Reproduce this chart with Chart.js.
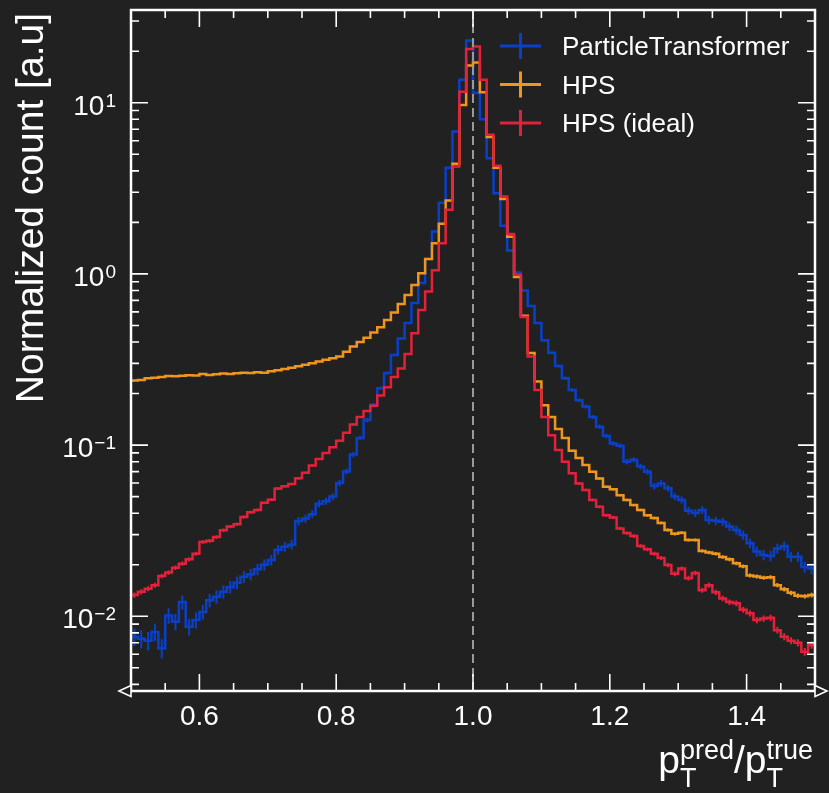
<!DOCTYPE html>
<html>
<head>
<meta charset="utf-8">
<script src="https://cdn.jsdelivr.net/npm/chart.js@4.4.0/dist/chart.umd.min.js"></script>
<style>
  html, body { margin: 0; padding: 0; background: #212121; }
  canvas { display: block; }
</style>
</head>
<body>
<canvas id="chart" width="829" height="793"></canvas>
<script>
// ---- data -----------------------------------------------------------------
const binLow = 0.5, binWidth = 0.01, nBins = 100;
const binEdges = Array.from({ length: nBins + 1 }, (_, i) => +(binLow + i * binWidth).toFixed(2));

const particleTransformer = [
  0.0076, 0.0074, 0.0072, 0.0081, 0.0065, 0.0101, 0.0093, 0.0121, 0.0087, 0.0095,
  0.0106, 0.0124, 0.0130, 0.0139, 0.0148, 0.0157, 0.0170, 0.0176, 0.0188, 0.0200,
  0.0213, 0.0245, 0.0255, 0.0262, 0.0360, 0.0372, 0.0395, 0.0455, 0.0470, 0.0500,
  0.0600, 0.0700, 0.0880, 0.110, 0.140, 0.172, 0.215, 0.264, 0.336, 0.420,
  0.517, 0.677, 0.885, 1.22, 1.77, 2.60, 4.17, 6.80, 13.6, 23.1,
  11.4, 8.0, 4.74, 2.96, 1.91, 1.37, 1.02, 0.80, 0.65, 0.517,
  0.41, 0.346, 0.29, 0.246, 0.21, 0.183, 0.168, 0.146, 0.128, 0.113,
  0.102, 0.099, 0.080, 0.082, 0.0749, 0.0699, 0.0576, 0.0597, 0.0560, 0.0500,
  0.0478, 0.0414, 0.0401, 0.0418, 0.0365, 0.0362, 0.0357, 0.0334, 0.0319, 0.0298,
  0.0267, 0.0239, 0.0228, 0.0225, 0.0249, 0.0257, 0.0223, 0.0223, 0.0194, 0.0190
];
const hps = [
  0.238, 0.240, 0.246, 0.247, 0.250, 0.253, 0.252, 0.254, 0.256, 0.255,
  0.260, 0.257, 0.259, 0.262, 0.260, 0.263, 0.265, 0.264, 0.266, 0.265,
  0.270, 0.274, 0.278, 0.283, 0.289, 0.295, 0.301, 0.308, 0.315, 0.322,
  0.329, 0.351, 0.376, 0.400, 0.424, 0.454, 0.488, 0.538, 0.594, 0.668,
  0.754, 0.862, 1.01, 1.22, 1.51, 1.96, 2.68, 4.40, 9.70, 16.5,
  17.2, 11.5, 6.30, 4.17, 2.74, 1.65, 0.96, 0.57, 0.345, 0.235,
  0.171, 0.146, 0.124, 0.110, 0.0928, 0.0840, 0.0764, 0.0699, 0.0639, 0.0571,
  0.0552, 0.0510, 0.0478, 0.0446, 0.0418, 0.0389, 0.0375, 0.0351, 0.0319, 0.0303,
  0.0308, 0.0279, 0.0279, 0.0241, 0.0236, 0.0232, 0.0222, 0.0215, 0.0204, 0.0196,
  0.0173, 0.0171, 0.0168, 0.0169, 0.0152, 0.0144, 0.0137, 0.0132, 0.0131, 0.0133
];
const hpsIdeal = [
  0.0133, 0.0139, 0.0145, 0.0152, 0.0172, 0.0180, 0.0192, 0.0203, 0.0215, 0.0232,
  0.0272, 0.0276, 0.0290, 0.0318, 0.0334, 0.0345, 0.0380, 0.0405, 0.0418, 0.0460,
  0.0480, 0.0558, 0.0575, 0.0593, 0.0640, 0.0690, 0.0760, 0.0830, 0.0900, 0.0970,
  0.106, 0.118, 0.132, 0.146, 0.158, 0.170, 0.195, 0.218, 0.250, 0.280,
  0.340, 0.450, 0.616, 0.790, 1.05, 1.51, 2.37, 4.24, 11.6, 20.6,
  21.3, 13.6, 6.50, 4.28, 2.83, 1.71, 0.99, 0.56, 0.329, 0.210,
  0.146, 0.114, 0.0935, 0.0800, 0.0684, 0.0597, 0.0547, 0.0478, 0.0436, 0.0389,
  0.0378, 0.0326, 0.0306, 0.0294, 0.0257, 0.0246, 0.0232, 0.0219, 0.0199, 0.0177,
  0.0190, 0.0167, 0.0179, 0.0142, 0.0152, 0.0138, 0.0127, 0.0121, 0.0119, 0.0109,
  0.0104, 0.0095, 0.0097, 0.0098, 0.0083, 0.0076, 0.0072, 0.0070, 0.0062, 0.0068
];

const seriesLabels = ["ParticleTransformer", "HPS", "HPS (ideal)"];
// effective number of entries per unit, used for the sqrt(N) error bars
const seriesEntries = [9300, 80000, 60000];

const xMajorTicks = [0.6, 0.8, 1.0, 1.2, 1.4];
const xMinorTicks = [0.55, 0.65, 0.7, 0.75, 0.85, 0.9, 0.95, 1.05, 1.1, 1.15, 1.25, 1.3, 1.35, 1.45];
const xTickLabels = ["0.6", "0.8", "1.0", "1.2", "1.4"];
const yMajorExponents = [-2, -1, 0, 1];
const yMinorExponents = [-3, -2, -1, 0, 1];

// ---- style ----------------------------------------------------------------
const FONT = '"Liberation Sans", Arial, Helvetica, sans-serif';
const BG = "#212121", FG = "#ffffff";
const COLORS = ["#0a40c8", "#f0961c", "#e3213a"];
const MAJOR = 17, MINOR = 8;

const allSeries = [particleTransformer, hps, hpsIdeal];

function histPoints(values) {
  return binEdges.map((x, i) => ({ x, y: values[Math.min(i, nBins - 1)] }));
}

const decor = {
  id: "decor",
  beforeDraw(chart) {
    const { ctx, width, height } = chart;
    ctx.save();
    ctx.fillStyle = BG;
    ctx.fillRect(0, 0, width, height);
    ctx.restore();
  },
  afterDatasetDraw(chart, args) {
    const { ctx, chartArea: a, scales: { x, y } } = chart;
    const i = args.index, values = allSeries[i], n = seriesEntries[i];
    ctx.save();
    ctx.beginPath();
    ctx.rect(a.left, a.top, a.right - a.left, a.bottom - a.top);
    ctx.clip();
    ctx.strokeStyle = COLORS[i];
    ctx.lineWidth = 2;
    ctx.beginPath();
    values.forEach((v, k) => {
      const err = Math.sqrt(v / n);
      const px = x.getPixelForValue(binEdges[k] + binWidth / 2);
      ctx.moveTo(px, y.getPixelForValue(v + err));
      ctx.lineTo(px, y.getPixelForValue(Math.max(v - err, 1e-6)));
    });
    ctx.stroke();
    ctx.restore();
  },
  afterDatasetsDraw(chart) {
    const { ctx, chartArea: a, scales: { x } } = chart;
    const px = x.getPixelForValue(1.0);
    ctx.save();
    ctx.strokeStyle = "#9a9a9a";
    ctx.lineWidth = 2;
    ctx.setLineDash([9, 5]);
    ctx.beginPath();
    ctx.moveTo(px, a.top);
    ctx.lineTo(px, a.bottom);
    ctx.stroke();
    ctx.restore();
  },
  afterDraw(chart) {
    const { ctx, chartArea: a, scales: { x, y } } = chart;
    ctx.save();
    ctx.strokeStyle = FG;
    ctx.fillStyle = FG;

    // ticks, inward on all four sides
    ctx.lineWidth = 1.6;
    ctx.beginPath();
    const xt = (v, len) => {
      const px = x.getPixelForValue(v);
      ctx.moveTo(px, a.bottom); ctx.lineTo(px, a.bottom - len);
      ctx.moveTo(px, a.top); ctx.lineTo(px, a.top + len);
    };
    const yt = (v, len) => {
      const py = y.getPixelForValue(v);
      if (py < a.top || py > a.bottom) return;
      ctx.moveTo(a.left, py); ctx.lineTo(a.left + len, py);
      ctx.moveTo(a.right, py); ctx.lineTo(a.right - len, py);
    };
    xMajorTicks.forEach(v => xt(v, MAJOR));
    xMinorTicks.forEach(v => xt(v, MINOR));
    yMajorExponents.forEach(e => yt(Math.pow(10, e), MAJOR));
    yMinorExponents.forEach(e => { for (let m = 2; m <= 9; m++) yt(m * Math.pow(10, e), MINOR); });
    ctx.stroke();

    // frame
    ctx.lineWidth = 2.5;
    ctx.strokeRect(a.left, a.top, a.right - a.left, a.bottom - a.top);

    // arrow heads on the x axis
    ctx.lineWidth = 1.6;
    ctx.fillStyle = BG;
    [[a.left, -1], [a.right, 1]].forEach(([bx, dir]) => {
      ctx.beginPath();
      ctx.moveTo(bx, a.bottom - 5.5);
      ctx.lineTo(bx + dir * 12, a.bottom);
      ctx.lineTo(bx, a.bottom + 5.5);
      ctx.closePath();
      ctx.fill();
      ctx.stroke();
    });
    ctx.fillStyle = FG;

    // x tick labels
    ctx.font = `28px ${FONT}`;
    ctx.textAlign = "center";
    ctx.textBaseline = "alphabetic";
    xMajorTicks.forEach((v, i) => ctx.fillText(xTickLabels[i], x.getPixelForValue(v), 725));

    // y tick labels 10^n
    yMajorExponents.forEach(e => {
      const py = y.getPixelForValue(Math.pow(10, e));
      const expStr = e < 0 ? "\u2212" + Math.abs(e) : String(e);
      ctx.font = `19px ${FONT}`;
      const we = ctx.measureText(expStr).width;
      ctx.font = `28px ${FONT}`;
      const wb = ctx.measureText("10").width;
      const right = 116;
      ctx.textAlign = "left";
      ctx.fillText("10", right - we - wb - 1, py + 12);
      ctx.font = `19px ${FONT}`;
      ctx.fillText(expStr, right - we, py + 4);
    });

    // y title, aligned to the top
    ctx.save();
    ctx.translate(43, 13);
    ctx.rotate(-Math.PI / 2);
    ctx.font = `39px ${FONT}`;
    ctx.textAlign = "right";
    ctx.fillText("Normalized count [a.u]", 0, 0);
    ctx.restore();

    // x title  p_T^pred / p_T^true, aligned to the right
    const big = `39px ${FONT}`, small = `27px ${FONT}`;
    const w = (t, f) => { ctx.font = f; return ctx.measureText(t).width; };
    const blockA = Math.max(w("pred", small), w("T", small));
    const blockB = Math.max(w("true", small), w("T", small));
    const total = 2 * w("p", big) + w("/", big) + blockA + blockB;
    let cx = 813 - total;
    const base = 773;
    ctx.textAlign = "left";
    const part = (t, f, dy) => { ctx.font = f; ctx.fillText(t, cx, base + dy); };
    part("p", big, 0); cx += w("p", big);
    part("pred", small, -14); part("T", small, 14); cx += blockA;
    part("/", big, 0); cx += w("/", big);
    part("p", big, 0); cx += w("p", big);
    part("true", small, -14); part("T", small, 14);

    // legend
    ctx.font = `26px ${FONT}`;
    seriesLabels.forEach((label, i) => {
      const by = 55 + i * 38.5, my = by - 9;
      ctx.strokeStyle = COLORS[i];
      ctx.lineWidth = 3;
      ctx.beginPath();
      ctx.moveTo(500, my); ctx.lineTo(541, my);
      ctx.moveTo(520.5, my - 13); ctx.lineTo(520.5, my + 13);
      ctx.stroke();
      ctx.fillStyle = FG;
      ctx.fillText(label, 562, by);
    });
    ctx.restore();
  }
};

new Chart(document.getElementById("chart"), {
  type: "line",
  data: {
    datasets: allSeries.map((values, i) => ({
      label: seriesLabels[i],
      data: histPoints(values),
      borderColor: COLORS[i],
      borderWidth: 2.5,
      stepped: "before",
      fill: false,
      pointRadius: 0,
      borderJoinStyle: "miter",
      order: 3 - i
    }))
  },
  options: {
    responsive: false,
    animation: false,
    devicePixelRatio: 1,
    layout: { padding: { left: 131, top: 10, right: 14, bottom: 102 } },
    plugins: { legend: { display: false }, tooltip: { enabled: false } },
    scales: {
      x: { type: "linear", min: 0.5, max: 1.5, display: false },
      y: { type: "logarithmic", min: 0.00366, max: 34.8, display: false }
    }
  },
  plugins: [decor]
});
</script>
</body>
</html>
